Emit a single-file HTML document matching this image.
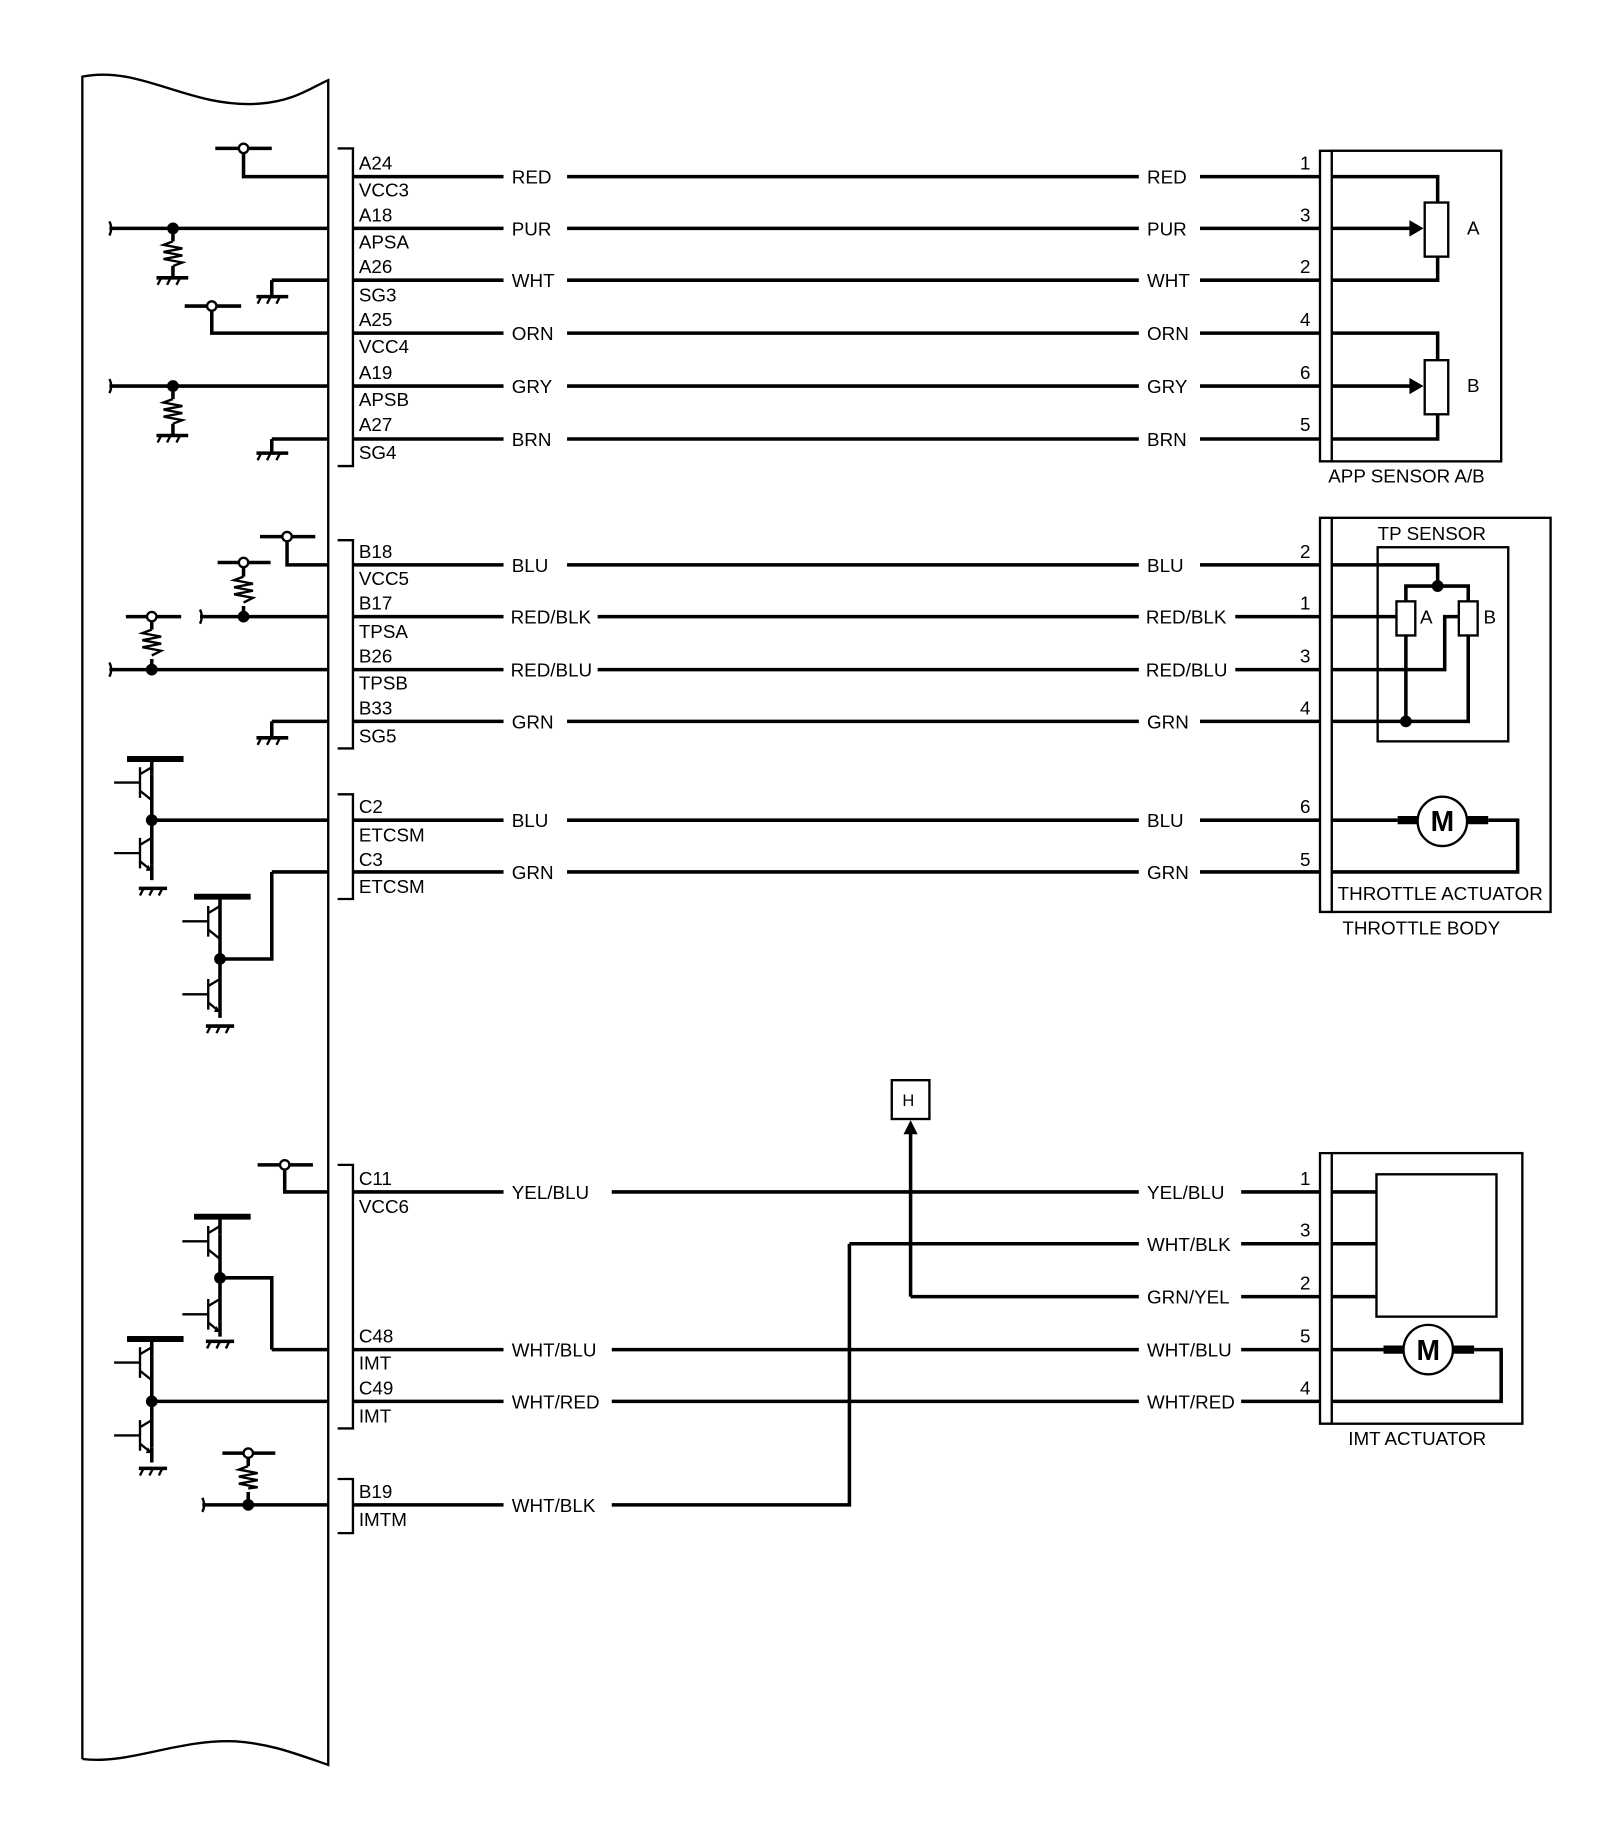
<!DOCTYPE html>
<html><head><meta charset="utf-8"><style>
html,body{margin:0;padding:0;background:#fff}
svg{display:block}
text{font-family:"Liberation Sans",Arial,sans-serif;font-size:16px;fill:#000}
</style></head><body>
<svg width="1600" height="1838" viewBox="0 0 1360 1562" xmlns="http://www.w3.org/2000/svg">
<g fill="none" stroke="#000" stroke-width="3">
<!-- ECU outline -->
<path d="M70,1495 L70,65 C120,55 160,92 220,88 C250,86 265,74 279,68 L279,1500 C250,1490 230,1482 200,1480 C150,1478 110,1500 70,1495" stroke-width="2"/>
<!-- brackets left -->
<path d="M287,126 H300 V396 H287 M287,459 H300 V636 H287 M287,675 H300 V764 H287 M287,990 H300 V1214 H287 M287,1257 H300 V1303 H287" stroke-width="2"/>
<!-- brackets right -->
<path d="M1132,128 H1122 V392 H1132 M1132,440 H1122 V775 H1132 M1132,980 H1122 V1210 H1132" stroke-width="2"/>
<rect x="1132" y="128" width="144" height="264" stroke-width="2"/>
<rect x="1132" y="440" width="186" height="335" stroke-width="2"/>
<rect x="1171" y="465" width="111" height="165" stroke-width="2"/>
<rect x="1132" y="980" width="162" height="230" stroke-width="2"/>
<rect x="1170" y="998" width="102" height="121" stroke-width="2"/>
<rect x="758" y="918" width="32" height="33" stroke-width="2"/>

<!-- main wires group A/B/C -->
<path d="M300,150H428 M482,150H968 M1020,150H1122
M300,194H428 M482,194H968 M1020,194H1122
M300,238H428 M482,238H968 M1020,238H1122
M300,283H428 M482,283H968 M1020,283H1122
M300,328H428 M482,328H968 M1020,328H1122
M300,373H428 M482,373H968 M1020,373H1122
M300,480H428 M482,480H968 M1020,480H1122
M300,524H428 M508,524H968 M1050,524H1122
M300,569H428 M508,569H968 M1050,569H1122
M300,613H428 M482,613H968 M1020,613H1122
M300,697H428 M482,697H968 M1020,697H1122
M300,741H428 M482,741H968 M1020,741H1122
M300,1013H428 M520,1013H968 M1055,1013H1122
M722,1057H968 M1055,1057H1122
M774,1102H968 M1055,1102H1122
M300,1147H428 M520,1147H968 M1055,1147H1122
M300,1191H428 M520,1191H968 M1055,1191H1122
M300,1279H428 M520,1279H722V1057
M774,1102V962"/>
<!-- APP sensor internals -->
<path d="M1132,150H1222V172 M1132,238H1222V218 M1132,194H1200 M1132,283H1222V306 M1132,373H1222V352 M1132,328H1200"/>
<rect x="1211" y="172" width="20" height="46" stroke-width="2"/>
<rect x="1211" y="306" width="20" height="46" stroke-width="2"/>
<!-- TP internals -->
<path d="M1132,480H1222V498 M1195,511V498H1248V511 M1132,524H1187 M1132,569H1228V524H1240 M1132,613H1248V540 M1195,540V613"/>
<rect x="1187" y="511" width="16" height="29" stroke-width="2"/>
<rect x="1240" y="511" width="16" height="29" stroke-width="2"/>
<!-- throttle motor -->
<path d="M1132,697H1188 M1265,697H1290V741H1132"/>
<path d="M1188,697H1205 M1247,697H1265" stroke-width="7"/>
<circle cx="1226" cy="698" r="21" stroke-width="2"/>
<!-- IMT internals -->
<path d="M1132,1013H1170 M1132,1057H1170 M1132,1102H1170 M1132,1147H1176 M1253,1147H1276V1191H1132"/>
<path d="M1176,1147H1193 M1235,1147H1253" stroke-width="7"/>
<circle cx="1214" cy="1147" r="21" stroke-width="2"/>

<!-- ECU internal circuits -->
<path d="M183,126H231 M207,126V150H279
M93,194H279 M147,194V205 M147,226V236 M133,236H160
M231,238H279 M231,238V252 M218,252H245
M157,260H205 M180,260V283H279
M93,328H279 M147,328V339 M147,360V370 M133,370H160
M231,373H279 M231,373V385 M218,385H245
M221,456H268 M244,456V480H279
M170,524H279 M207,524V515 M207,490V478 M185,478H230
M93,569H279 M129,569V560 M129,535V524 M107,524H154
M231,613H279 M231,613V627 M218,627H245
M129,697H279 M129,658V735
M231,741H279 M231,741V815H187 M187,778V852
M219,990H266 M242,990V1013H279
M231,1147H279 M231,1147V1086H187 M187,1049V1123
M129,1191H279 M129,1153V1230
M172,1279H279 M211,1279V1268 M211,1246V1235 M189,1235H234"/>
<!-- transistor bars / collectors -->
<path d="M108,645H156 M129,645V658 M129,748V735 M118,755H142
M165,762H213 M187,762V778 M187,852V865 M175,872H199
M165,1034H213 M187,1034V1049 M187,1123V1136 M175,1140H199
M108,1138H156 M129,1138V1153 M129,1230V1243 M118,1248H142" />
<path d="M108,645H156 M165,762H213 M165,1034H213 M108,1138H156" stroke-width="5"/>
</g>
<!-- transistors -->
<g fill="none" stroke="#000" stroke-width="2">
<path d="M97,665H119 M119,652V678 M119,658L129,652 M119,672L129,680
M97,725H119 M119,712V738 M119,718L129,712 M119,732L129,740
M155,783H177 M177,770V796 M177,776L187,770 M177,790L187,798
M155,845H177 M177,832V858 M177,838L187,832 M177,852L187,860
M155,1055H177 M177,1042V1068 M177,1048L187,1042 M177,1062L187,1070
M155,1117H177 M177,1104V1130 M177,1110L187,1104 M177,1124L187,1132
M97,1158H119 M119,1145V1171 M119,1151L129,1145 M119,1165L129,1173
M97,1220H119 M119,1207V1233 M119,1213L129,1207 M119,1227L129,1235"/>
<!-- resistors zigzag -->
<path d="M147,205l-8,3l16,3l-16,3l16,3l-16,3l16,3l-8,3
M147,339l-8,3l16,3l-16,3l16,3l-16,3l16,3l-8,3
M207,490l-8,3l16,3l-16,3l16,3l-16,3l16,3l-8,4
M129,535l-8,3l16,3l-16,3l16,3l-16,3l16,3l-8,4
M211,1246l-8,3l16,3l-16,3l16,3l-16,3l16,3l-8,1"/>
<!-- ground hatches -->
<path d="M137,236l-3,6 M145,236l-3,6 M153,236l-3,6 M137,370l-3,6 M145,370l-3,6 M153,370l-3,6
M222,252l-3,6 M230,252l-3,6 M238,252l-3,6 M222,385l-3,6 M230,385l-3,6 M238,385l-3,6
M222,627l-3,6 M230,627l-3,6 M238,627l-3,6
M122,755l-3,6 M130,755l-3,6 M138,755l-3,6 M179,872l-3,6 M187,872l-3,6 M195,872l-3,6
M179,1140l-3,6 M187,1140l-3,6 M195,1140l-3,6 M122,1248l-3,6 M130,1248l-3,6 M138,1248l-3,6
M93,188q3,6 0,12 M93,322q3,6 0,12 M170,518q3,6 0,12 M93,563q3,6 0,12 M172,1273q3,6 0,12"/>
</g>
<g fill="#000">
<circle cx="147" cy="194" r="5"/><circle cx="147" cy="328" r="5"/>
<circle cx="207" cy="524" r="5"/><circle cx="129" cy="569" r="5"/>
<circle cx="129" cy="697" r="5"/><circle cx="187" cy="815" r="5"/>
<circle cx="187" cy="1086" r="5"/><circle cx="129" cy="1191" r="5"/>
<circle cx="211" cy="1279" r="5"/>
<circle cx="1222" cy="498" r="5"/><circle cx="1195" cy="613" r="5"/>
<path d="M1210,194l-12,-7v14z M1210,328l-12,-7v14z M774,952l-6,12h12z"/>
<path d="M124,740l5,0l-3,-5z M124,1235l5,0l-3,-5z M182,860l5,0l-3,-5z M182,1132l5,0l-3,-5z"/>
</g>
<g fill="#fff" stroke="#000" stroke-width="2">
<circle cx="207" cy="126" r="4"/><circle cx="180" cy="260" r="4"/>
<circle cx="244" cy="456" r="4"/><circle cx="207" cy="478" r="4"/>
<circle cx="129" cy="524" r="4"/><circle cx="242" cy="990" r="4"/>
<circle cx="211" cy="1235" r="4"/>
</g>
<!-- pin labels -->
<g>
<text x="305" y="144">A24</text><text x="305" y="167">VCC3</text>
<text x="305" y="188">A18</text><text x="305" y="211">APSA</text>
<text x="305" y="232">A26</text><text x="305" y="256">SG3</text>
<text x="305" y="277">A25</text><text x="305" y="300">VCC4</text>
<text x="305" y="322">A19</text><text x="305" y="345">APSB</text>
<text x="305" y="366">A27</text><text x="305" y="390">SG4</text>
<text x="305" y="474">B18</text><text x="305" y="497">VCC5</text>
<text x="305" y="518">B17</text><text x="305" y="542">TPSA</text>
<text x="305" y="563">B26</text><text x="305" y="586">TPSB</text>
<text x="305" y="607">B33</text><text x="305" y="631">SG5</text>
<text x="305" y="691">C2</text><text x="305" y="715">ETCSM</text>
<text x="305" y="736">C3</text><text x="305" y="759">ETCSM</text>
<text x="305" y="1007">C11</text><text x="305" y="1031">VCC6</text>
<text x="305" y="1141">C48</text><text x="305" y="1164">IMT</text>
<text x="305" y="1185">C49</text><text x="305" y="1209">IMT</text>
<text x="305" y="1273">B19</text><text x="305" y="1297">IMTM</text>
</g>
<!-- wire color labels -->
<g>
<text x="435" y="156">RED</text><text x="975" y="156">RED</text>
<text x="435" y="200">PUR</text><text x="975" y="200">PUR</text>
<text x="435" y="244">WHT</text><text x="975" y="244">WHT</text>
<text x="435" y="289">ORN</text><text x="975" y="289">ORN</text>
<text x="435" y="334">GRY</text><text x="975" y="334">GRY</text>
<text x="435" y="379">BRN</text><text x="975" y="379">BRN</text>
<text x="435" y="486">BLU</text><text x="975" y="486">BLU</text>
<text x="434" y="530">RED/BLK</text><text x="974" y="530">RED/BLK</text>
<text x="434" y="575">RED/BLU</text><text x="974" y="575">RED/BLU</text>
<text x="435" y="619">GRN</text><text x="975" y="619">GRN</text>
<text x="435" y="703">BLU</text><text x="975" y="703">BLU</text>
<text x="435" y="747">GRN</text><text x="975" y="747">GRN</text>
<text x="435" y="1019">YEL/BLU</text><text x="975" y="1019">YEL/BLU</text>
<text x="975" y="1063">WHT/BLK</text>
<text x="975" y="1108">GRN/YEL</text>
<text x="435" y="1153">WHT/BLU</text><text x="975" y="1153">WHT/BLU</text>
<text x="435" y="1197">WHT/RED</text><text x="975" y="1197">WHT/RED</text>
<text x="435" y="1285">WHT/BLK</text>
</g>
<!-- connector pin numbers -->
<g>
<text x="1105" y="144">1</text><text x="1105" y="188">3</text><text x="1105" y="232">2</text>
<text x="1105" y="277">4</text><text x="1105" y="322">6</text><text x="1105" y="366">5</text>
<text x="1105" y="474">2</text><text x="1105" y="518">1</text><text x="1105" y="563">3</text>
<text x="1105" y="607">4</text><text x="1105" y="691">6</text><text x="1105" y="736">5</text>
<text x="1105" y="1007">1</text><text x="1105" y="1051">3</text><text x="1105" y="1096">2</text>
<text x="1105" y="1141">5</text><text x="1105" y="1185">4</text>
</g>
<text x="1247" y="199">A</text><text x="1247" y="333">B</text>
<text x="1207" y="530">A</text><text x="1261" y="530">B</text>
<text x="1129" y="410">APP SENSOR A/B</text>
<text x="1171" y="459">TP SENSOR</text>
<text x="1137" y="765">THROTTLE ACTUATOR</text>
<text x="1141" y="794">THROTTLE BODY</text>
<text x="1146" y="1228">IMT ACTUATOR</text>
<text x="767" y="940" style="font-size:14px">H</text>
<text x="1214" y="706" text-anchor="middle" style="font-size:24px;font-weight:bold" transform="translate(12,0)">M</text>
<text x="1214" y="1156" text-anchor="middle" style="font-size:24px;font-weight:bold">M</text>
</svg>
</body></html>
